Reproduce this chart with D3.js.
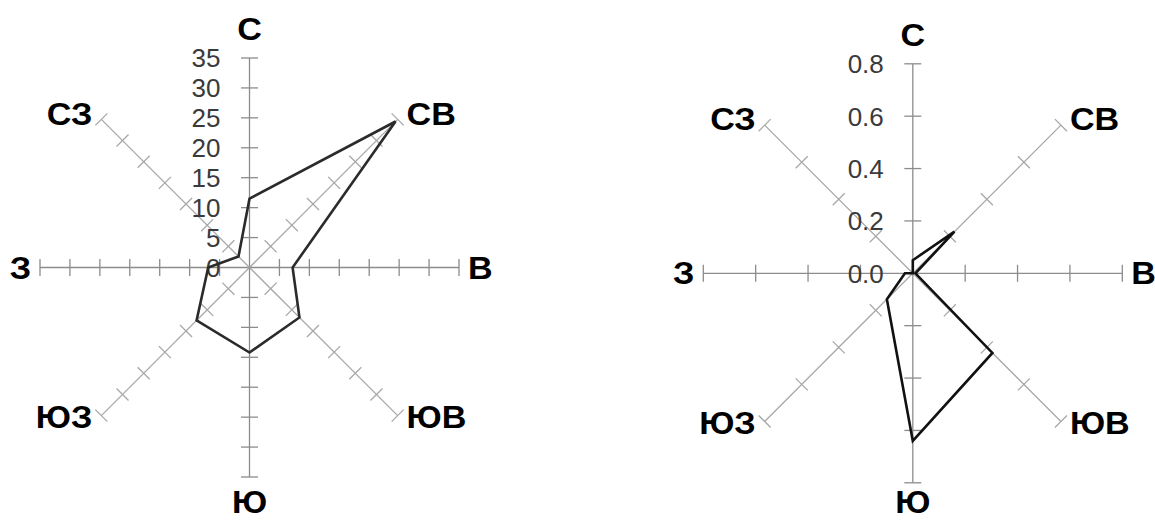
<!DOCTYPE html>
<html>
<head>
<meta charset="utf-8">
<script src="https://cdn.jsdelivr.net/npm/d3@7"></script>
<style>
  body { margin: 0; background: #fff; }
  svg { display: block; }
</style>
</head>
<body>
<div id="chart"></div>
<script>
// step 0 the data
const directions = ["С", "СВ", "В", "ЮВ", "Ю", "ЮЗ", "З", "СЗ"];

// left rose
const leftValues = [11.5, 34.5, 7.2, 11.8, 14.2, 12.5, 6.9, 2.6];
const leftTicks = [0, 5, 10, 15, 20, 25, 30, 35];
const leftTickLabels = ["0", "5", "10", "15", "20", "25", "30", "35"];

// right rose
const rightValues = [0.05, 0.225, 0.01, 0.43, 0.64, 0.14, 0.03, 0.0];
const rightTicks = [0, 0.2, 0.4, 0.6, 0.8];
const rightTickLabels = ["0.0", "0.2", "0.4", "0.6", "0.8"];

// step 1 svg
const width = 1155, height = 522;
const svg = d3.select("#chart").append("svg")
  .attr("width", width)
  .attr("height", height);

const radius = 209.5;

function drawRose(cx, cy, values, ticks, tickLabels, lineColor, southShift) {
  const g = svg.append("g").attr("transform", "translate(" + cx + "," + cy + ")");

  const rScale = d3.scaleLinear()
    .domain([0, d3.max(ticks)])
    .range([0, radius]);

  const angle = d3.scalePoint()
    .domain(directions)
    .range([0, 2 * Math.PI * (directions.length - 1) / directions.length]);

  // spokes
  directions.forEach(function (d, i) {
    const a = angle(d);
    const sx = Math.sin(a), sy = -Math.cos(a);
    const diag = i % 2 === 1;
    const col = diag ? "#a8a8a8" : "#8c8c8c";
    g.append("line")
      .attr("x1", 0).attr("y1", 0)
      .attr("x2", sx * radius).attr("y2", sy * radius)
      .attr("stroke", col)
      .attr("stroke-width", 1.3);

    // tick marks, perpendicular to the spoke
    ticks.filter(t => t > 0).forEach(function (t) {
      const r = rScale(t);
      const px = -sy, py = sx;
      g.append("line")
        .attr("x1", sx * r - px * 8.5).attr("y1", sy * r - py * 8.5)
        .attr("x2", sx * r + px * 8.5).attr("y2", sy * r + py * 8.5)
        .attr("stroke", col)
        .attr("stroke-width", 1.3);
    });
  });

  // value labels along the north spoke
  g.selectAll(".tick-label")
    .data(ticks)
    .enter()
    .append("text")
    .attr("class", "tick-label")
    .attr("x", -29)
    .attr("y", d => -rScale(d))
    .attr("dy", "0.36em")
    .attr("text-anchor", "end")
    .style("font-family", "'Liberation Sans', Arial, sans-serif")
    .style("font-size", "26px")
    .style("fill", "#3a3a3a")
    .text((d, i) => tickLabels[i]);

  // direction labels
  directions.forEach(function (d, i) {
    const a = angle(d);
    const sx = Math.sin(a), sy = -Math.cos(a);
    const ex = sx * radius, ey = sy * radius;
    let x = ex, y = ey, anchor = "middle";
    if (Math.abs(sx) < 0.01) {
      y = sy < 0 ? ey - 29 : ey + southShift;
    } else {
      anchor = sx > 0 ? "start" : "end";
      x = ex + (sx > 0 ? 9 : -9);
      if (Math.abs(sy) > 0.01) y = ey + (sy < 0 ? -6 : 1);
    }
    const t = g.append("text")
      .attr("x", x)
      .attr("y", y)
      .attr("dy", "0.36em")
      .attr("text-anchor", anchor)
      .style("font-family", "'Liberation Sans', Arial, sans-serif")
      .style("font-weight", "bold")
      .style("font-size", "31px")
      .style("fill", "#000")
      .text(d);
    // the original lettering is a bit wider than Arial
    const len = t.node().getComputedTextLength();
    t.attr("textLength", len * 1.1).attr("lengthAdjust", "spacingAndGlyphs");
  });

  // data polygon
  const line = d3.lineRadial()
    .angle(d => angle(d.dir))
    .radius(d => rScale(d.value))
    .curve(d3.curveLinearClosed);

  g.append("path")
    .datum(directions.map((d, i) => ({ dir: d, value: values[i] })))
    .attr("d", line)
    .attr("fill", "none")
    .attr("stroke", lineColor)
    .attr("stroke-width", 2.6)
    .attr("stroke-linejoin", "miter");
}

drawRose(249.5, 267.5, leftValues, leftTicks, leftTickLabels, "#2b2b2b", 25);
drawRose(912.8, 273.3, rightValues, rightTicks, rightTickLabels, "#111", 19);
</script>
</body>
</html>
